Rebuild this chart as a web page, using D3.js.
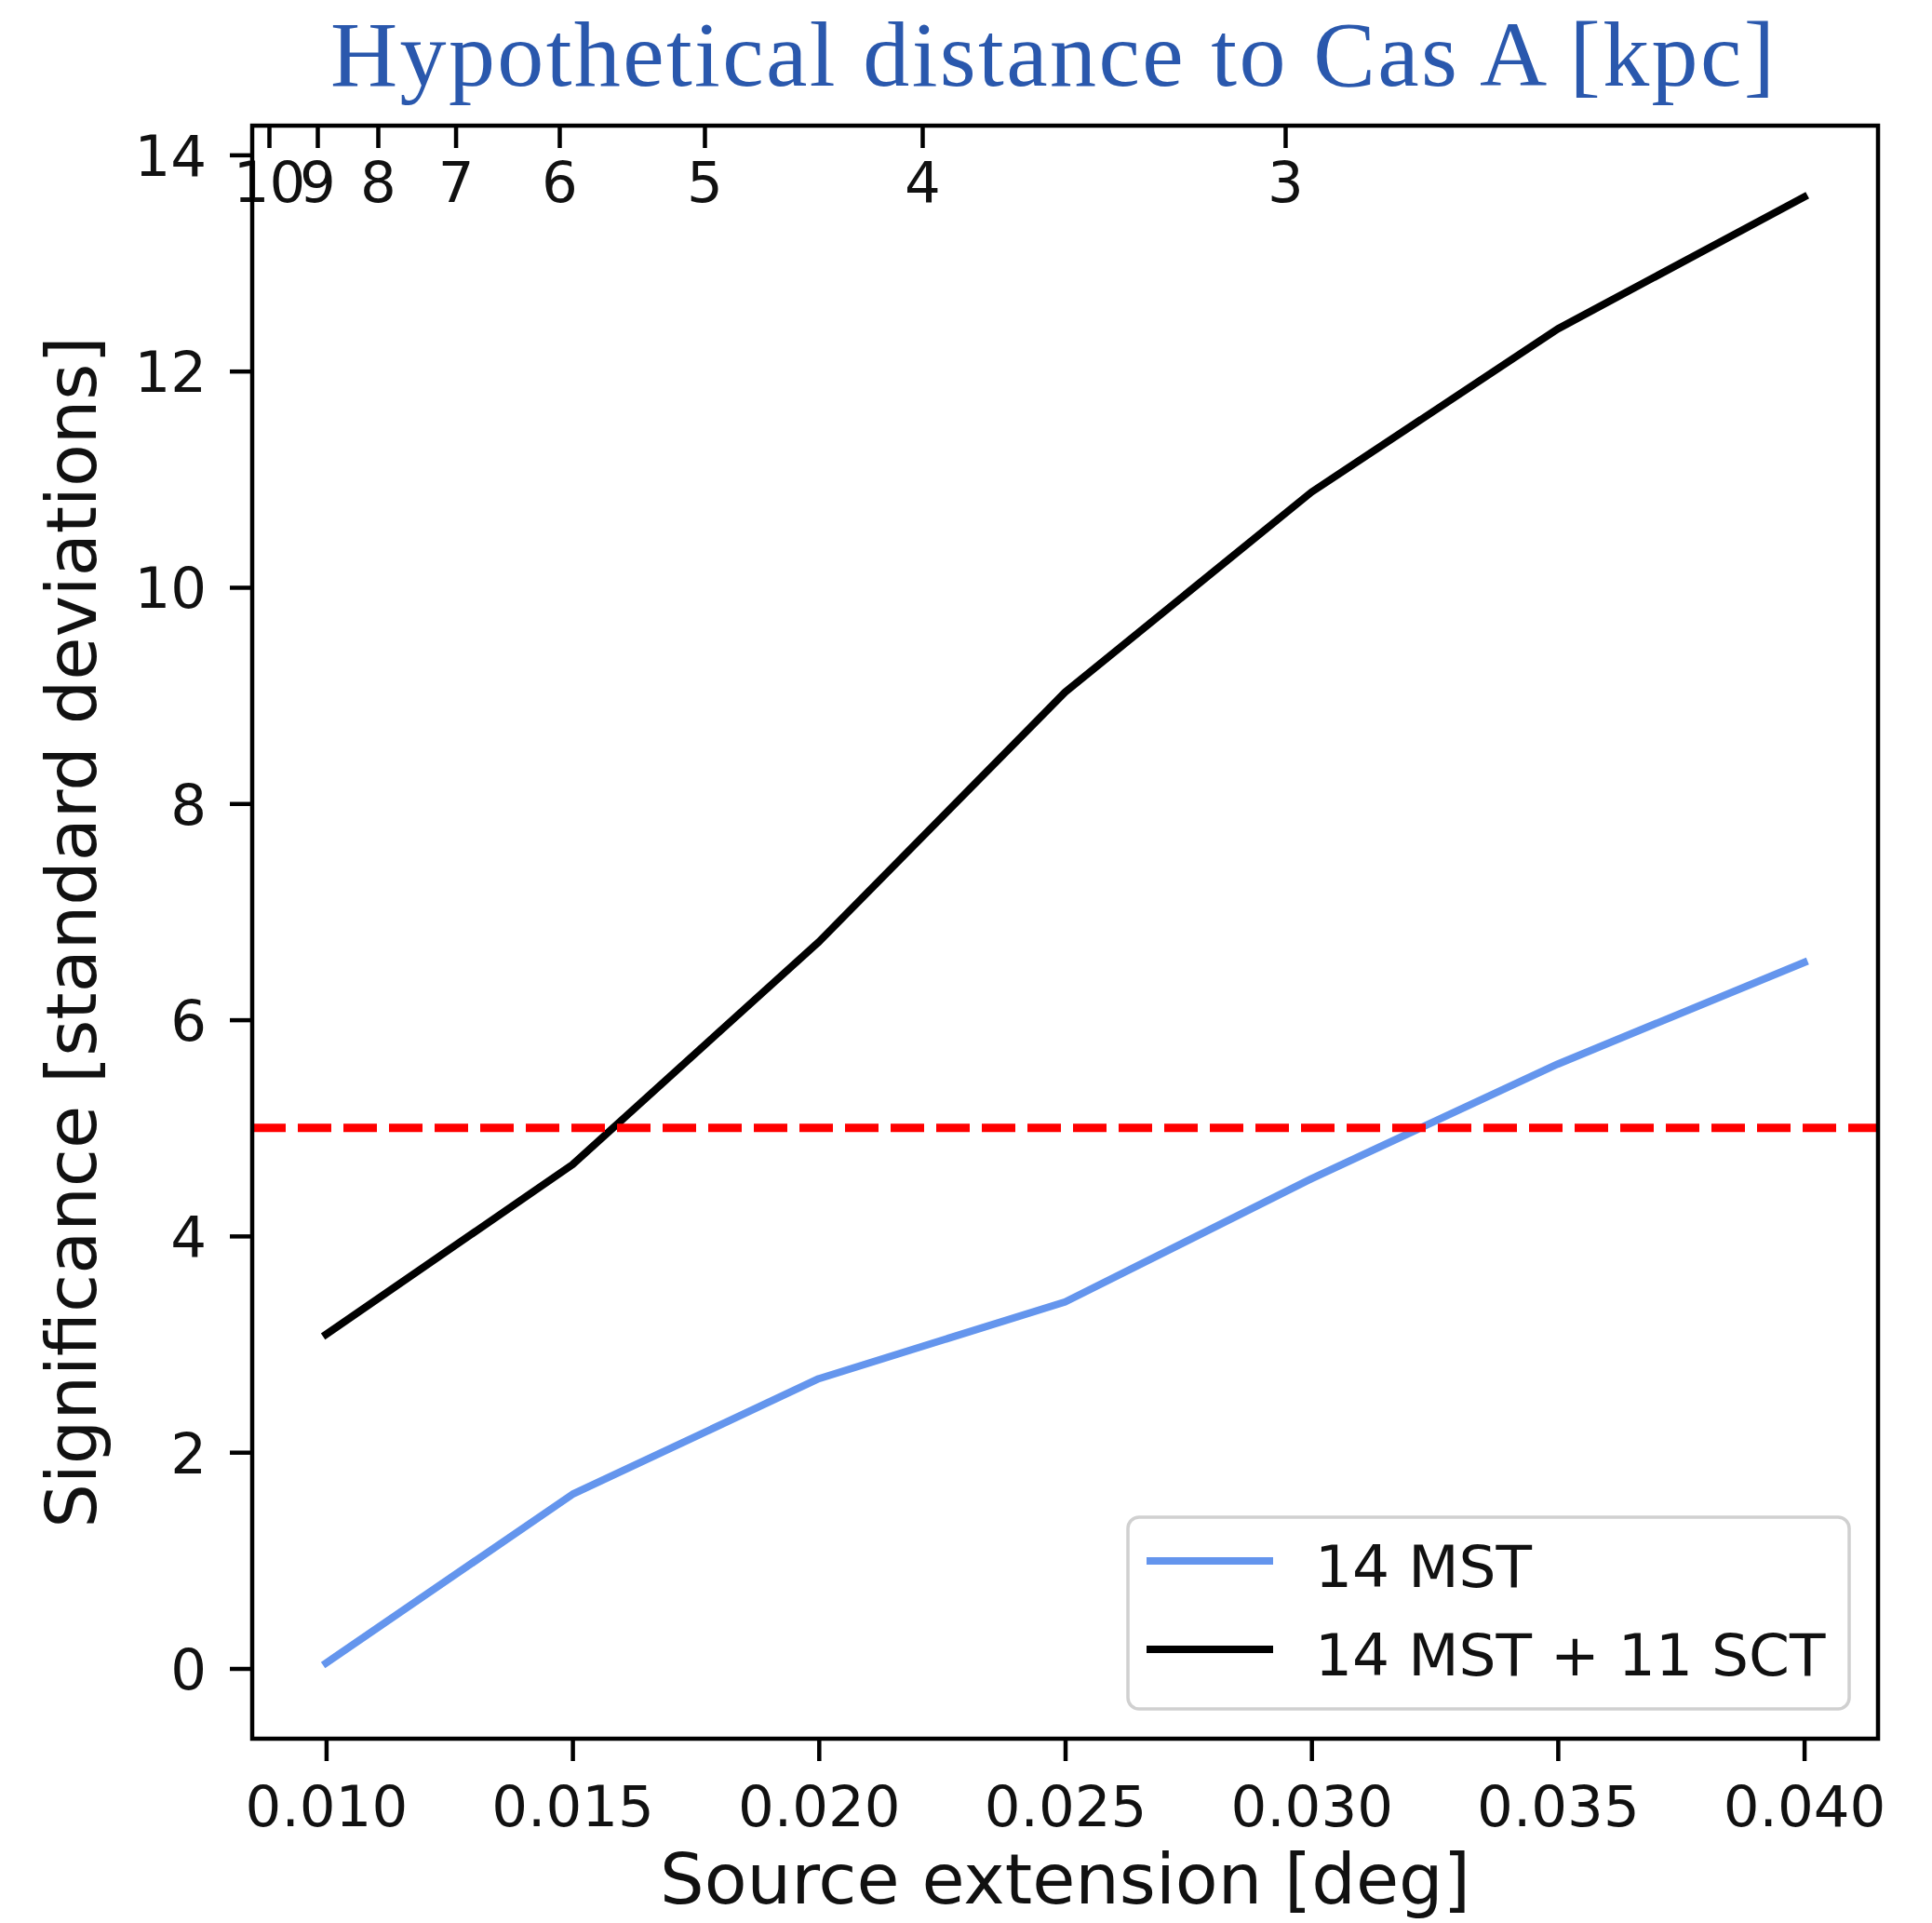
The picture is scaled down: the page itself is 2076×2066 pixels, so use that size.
<!DOCTYPE html>
<html>
<head>
<meta charset="utf-8">
<script src="https://cdn.jsdelivr.net/npm/d3@7"></script>
<style>
  html, body { margin: 0; padding: 0; background: #ffffff; }
  svg { display: block; }
</style>
</head>
<body>
<svg id="chart" width="2076" height="2066"></svg>
<script>
// Source extension (deg) sampled for the two array layouts
const extensions = [0.010, 0.015, 0.020, 0.025, 0.030, 0.035, 0.040];
// Detection significance in standard deviations
const mstOnly = [0.05, 1.61, 2.68, 3.39, 4.53, 5.59, 6.53];
const mstPlusSct = [3.09, 4.66, 6.72, 9.03, 10.88, 12.39, 13.61];
const seriesNames = ["14 MST", "14 MST + 11 SCT"];
const seriesColors = ["#6495ed", "#000000"];
// 5 sigma detection threshold
const threshold = 5;
// Tick labels
const xTicks = [0.010, 0.015, 0.020, 0.025, 0.030, 0.035, 0.040];
const yTicks = [0, 2, 4, 6, 8, 10, 12, 14];
const distanceTicks = [10, 9, 8, 7, 6, 5, 4, 3];
// extension [deg] x distance [kpc] for the remnant's fixed physical size
const extentTimesDistance = 0.0884;

const svg = d3.select("#chart");
const plotLeft = 271, plotRight = 2018, plotTop = 135, plotBottom = 1868;
const tickFont = "DejaVu Sans, Verdana, sans-serif";
const tickSizePx = 61;

const x = d3.scaleLinear().domain([0.0085, 0.0415]).range([plotLeft, plotRight]);
const y = d3.scaleLinear().domain([-0.65, 14.27]).range([plotBottom, plotTop]);

// Title
svg.append("text")
  .attr("x", 355).attr("y", 92)
  .attr("font-family", "Liberation Serif, Times New Roman, serif")
  .attr("font-size", 100)
  .attr("fill", "#2a58ad")
  .attr("textLength", 1552)
  .attr("lengthAdjust", "spacing")
  .text("Hypothetical distance to Cas A [kpc]");

// Clip for data lines
svg.append("defs").append("clipPath").attr("id", "plotClip")
  .append("rect").attr("x", plotLeft).attr("y", plotTop)
  .attr("width", plotRight - plotLeft).attr("height", plotBottom - plotTop);

const plot = svg.append("g").attr("clip-path", "url(#plotClip)");

const line = d3.line().x((d, i) => x(extensions[i])).y(d => y(d));
[mstOnly, mstPlusSct].forEach((vals, i) => {
  plot.append("path")
    .datum(vals)
    .attr("d", line)
    .attr("fill", "none")
    .attr("stroke", seriesColors[i])
    .attr("stroke-width", 8)
    .attr("stroke-linejoin", "round")
    .attr("stroke-linecap", "square");
});

// Threshold line across the full axes width
plot.append("line")
  .attr("x1", plotLeft).attr("x2", plotRight)
  .attr("y1", y(threshold)).attr("y2", y(threshold))
  .attr("stroke", "#ff0000")
  .attr("stroke-width", 9)
  .attr("stroke-dasharray", "36,13");

// Axes styling helper
function styleAxis(g) {
  g.select(".domain").remove();
  g.selectAll(".tick line").attr("stroke", "#000").attr("stroke-width", 4.5);
  g.selectAll(".tick text")
    .attr("font-family", tickFont)
    .attr("font-size", tickSizePx)
    .attr("fill", "#111");
}

// Bottom axis
svg.append("g")
  .attr("transform", `translate(0,${plotBottom})`)
  .call(d3.axisBottom(x).tickValues(xTicks).tickFormat(d3.format(".3f"))
    .tickSize(24).tickPadding(27))
  .call(styleAxis);

// Left axis
svg.append("g")
  .attr("transform", `translate(${plotLeft},0)`)
  .call(d3.axisLeft(y).tickValues(yTicks).tickFormat(d3.format("d"))
    .tickSize(24).tickPadding(25))
  .call(styleAxis)
  .call(g => g.selectAll(".tick text").attr("dy", "0.36em"));

// Top axis: hypothetical distance, ticks pointing inward with labels inside
svg.append("g")
  .attr("transform", `translate(0,${plotTop})`)
  .call(d3.axisBottom(x)
    .tickValues(distanceTicks.map(d => extentTimesDistance / d))
    .tickFormat(v => String(Math.round(extentTimesDistance / v)))
    .tickSize(24).tickPadding(15))
  .call(styleAxis);

// Frame
svg.append("rect")
  .attr("x", plotLeft).attr("y", plotTop)
  .attr("width", plotRight - plotLeft).attr("height", plotBottom - plotTop)
  .attr("fill", "none").attr("stroke", "#000").attr("stroke-width", 4.5);

// Axis labels
svg.append("text")
  .attr("x", (plotLeft + plotRight) / 2).attr("y", 2045)
  .attr("text-anchor", "middle")
  .attr("font-family", tickFont).attr("font-size", 75).attr("fill", "#111")
  .text("Source extension [deg]");

svg.append("text")
  .attr("transform", `translate(103,${(plotTop + plotBottom) / 2}) rotate(-90)`)
  .attr("text-anchor", "middle")
  .attr("font-family", tickFont).attr("font-size", 75).attr("fill", "#111")
  .text("Significance [standard deviations]");

// Legend
const legend = svg.append("g");
legend.append("rect")
  .attr("x", 1212).attr("y", 1630).attr("width", 775).attr("height", 206)
  .attr("rx", 12).attr("ry", 12)
  .attr("fill", "#ffffff").attr("fill-opacity", 0.8)
  .attr("stroke", "#d0d0d0").attr("stroke-width", 3.5);

const rowY = [1677, 1772];
seriesNames.forEach((name, i) => {
  legend.append("line")
    .attr("x1", 1232).attr("x2", 1368)
    .attr("y1", rowY[i]).attr("y2", rowY[i])
    .attr("stroke", seriesColors[i]).attr("stroke-width", 8);
  legend.append("text")
    .attr("x", 1413).attr("y", rowY[i] + 28)
    .attr("font-family", tickFont).attr("font-size", 63).attr("fill", "#111")
    .text(name);
});
</script>
</body>
</html>
